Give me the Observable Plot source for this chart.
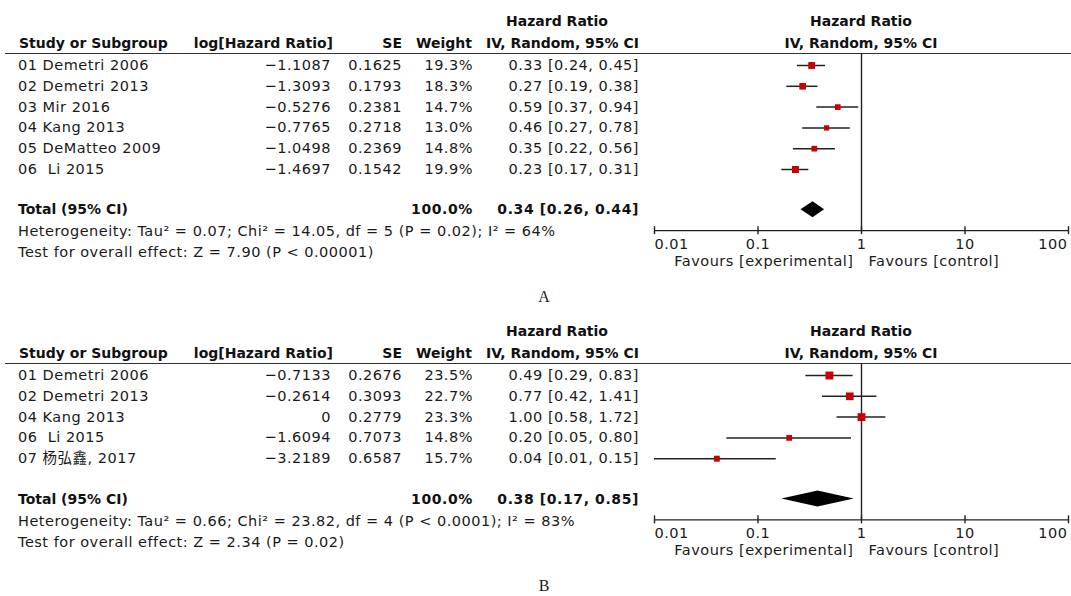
<!DOCTYPE html>
<html><head><meta charset="utf-8">
<script src="https://cdn.jsdelivr.net/npm/d3@7"></script>
<script src="https://cdn.jsdelivr.net/npm/@observablehq/plot@0.6"></script>
<style>
html,body{margin:0;padding:0;background:#fff;}
#root{position:relative;width:1071px;height:596px;overflow:hidden;font-family:"DejaVu Sans","Noto Sans CJK SC",sans-serif;color:#1a1a1a;}
.t{position:absolute;white-space:pre;font-size:14.5px;letter-spacing:0.5px;line-height:1;}
.b{font-weight:bold;font-size:14px;letter-spacing:0;color:#111;}
.tb{font-weight:bold;font-size:14px;letter-spacing:0.6px;color:#111;}
.l{transform:translate(0,-50%);}
.r{transform:translate(-100%,-50%);}
.c{transform:translate(-50%,-50%);}
.lab{font-family:"Liberation Serif",serif;font-size:16px;letter-spacing:0;}
.hr{position:absolute;left:5px;width:1066px;height:1px;background:#333;}
svg text{letter-spacing:0.5px;}
</style></head><body><div id="root"></div><script>
// ---------- data ----------
const colHeaders1 = ["Hazard Ratio"];
const colHeaders2 = ["Study or Subgroup", "log[Hazard Ratio]", "SE", "Weight", "IV, Random, 95% CI"];
const plotHeaders = ["Hazard Ratio", "IV, Random, 95% CI"];
const tickValues = [0.01, 0.1, 1, 10, 100];
const tickLabels = ["0.01", "0.1", "1", "10", "100"];
const favourLabels = ["Favours [experimental]", "Favours [control]"];

// Panel A
const studiesA = ["01 Demetri 2006", "02 Demetri 2013", "03 Mir 2016", "04 Kang 2013", "05 DeMatteo 2009", "06  Li 2015"];
const logHrA = [-1.1087, -1.3093, -0.5276, -0.7765, -1.0498, -1.4697];
const seA = [0.1625, 0.1793, 0.2381, 0.2718, 0.2369, 0.1542];
const weightA = [19.3, 18.3, 14.7, 13.0, 14.8, 19.9];
const hrA = [0.33, 0.27, 0.59, 0.46, 0.35, 0.23];
const loA = [0.24, 0.19, 0.37, 0.27, 0.22, 0.17];
const hiA = [0.45, 0.38, 0.94, 0.78, 0.56, 0.31];
const totalA = [0.34, 0.26, 0.44];
const hetA = "Heterogeneity: Tau² = 0.07; Chi² = 14.05, df = 5 (P = 0.02); I² = 64%";
const testA = "Test for overall effect: Z = 7.90 (P < 0.00001)";

// Panel B
const studiesB = ["01 Demetri 2006", "02 Demetri 2013", "04 Kang 2013", "06  Li 2015", "07 杨弘鑫, 2017"];
const logHrB = [-0.7133, -0.2614, 0, -1.6094, -3.2189];
const seB = [0.2676, 0.3093, 0.2779, 0.7073, 0.6587];
const weightB = [23.5, 22.7, 23.3, 14.8, 15.7];
const hrB = [0.49, 0.77, 1.00, 0.20, 0.04];
const loB = [0.29, 0.42, 0.58, 0.05, 0.01];
const hiB = [0.83, 1.41, 1.72, 0.80, 0.15];
const totalB = [0.38, 0.17, 0.85];
const hetB = "Heterogeneity: Tau² = 0.66; Chi² = 23.82, df = 4 (P < 0.0001); I² = 83%";
const testB = "Test for overall effect: Z = 2.34 (P = 0.02)";

// ---------- layout ----------
const ROWH = 20.8, TOP = 12, RULE_Y = 53, TOTAL_GAP = 0.94;
const root = document.getElementById("root");
const f4 = v => v === 0 ? "0" : d3.format(".4f")(v);
const f2 = v => v.toFixed(2);
const ci = (h, l, u) => `${f2(h)} [${f2(l)}, ${f2(u)}]`;

function txt(parent, s, x, y, cls, al) {
  const d = document.createElement("div");
  d.className = "t " + cls + " " + al;
  d.style.left = x + "px";
  d.style.top = y + "px";
  d.textContent = s;
  parent.appendChild(d);
}

function panel(p, top) {
  const el = document.createElement("div");
  el.style.cssText = `position:absolute;left:0;top:${top}px;width:1071px;height:286px;`;
  root.appendChild(el);
  const n = p.names.length;
  const rowY = i => RULE_Y + TOP + i * ROWH;
  // header
  txt(el, colHeaders1[0], 557, 21, "b", "c");
  txt(el, plotHeaders[0], 861, 21, "b", "c");
  txt(el, colHeaders2[0], 19, 43, "b", "l");
  txt(el, colHeaders2[1], 333, 43, "b", "r");
  txt(el, colHeaders2[2], 402, 43, "b", "r");
  txt(el, colHeaders2[3], 472, 43, "b", "r");
  txt(el, colHeaders2[4], 639, 43, "b", "r");
  txt(el, plotHeaders[1], 861, 43, "b", "c");
  const hr = document.createElement("div");
  hr.className = "hr"; hr.style.top = RULE_Y + "px";
  el.appendChild(hr);
  // rows
  p.names.forEach((name, i) => {
    const y = rowY(i);
    txt(el, name, 18, y, "", "l");
    txt(el, f4(p.logHr[i]), 331, y, "", "r");
    txt(el, f4(p.se[i]), 402, y, "", "r");
    txt(el, p.weight[i].toFixed(1) + "%", 473, y, "", "r");
    txt(el, ci(p.hr[i], p.lo[i], p.hi[i]), 639, y, "", "r");
  });
  const totalRow = n + TOTAL_GAP;
  const ty = rowY(totalRow);
  txt(el, "Total (95% CI)", 18, ty, "b", "l");
  txt(el, d3.sum(p.weight).toFixed(1) + "%", 473, ty, "tb", "r");
  txt(el, ci(p.total[0], p.total[1], p.total[2]), 639, ty, "tb", "r");
  txt(el, p.het, 18, ty + 22, "", "l");
  txt(el, p.test, 18, ty + 43, "", "l");
  const axisRow = totalRow + 1;
  txt(el, p.label, 544, rowY(axisRow) + 67, "lab", "c");

  // forest plot
  const rows = p.names.map((name, i) => ({i, hr: p.hr[i], lo: p.lo[i], hi: p.hi[i], w: p.weight[i]}));
  const dh = 8 / ROWH;
  const diamond = [
    {y: totalRow - dh, x1: p.total[0], x2: p.total[0]},
    {y: totalRow, x1: p.total[1], x2: p.total[2]},
    {y: totalRow + dh, x1: p.total[0], x2: p.total[0]}
  ];
  const ticks = tickValues.map((v, k) => ({v, label: tickLabels[k], k}));
  const tk = 4 / ROWH;
  const labRow = axisRow + 13.5 / ROWH;
  const favRow = axisRow + 31 / ROWH;
  const H = Math.ceil(TOP + favRow * ROWH + 12);
  const chart = Plot.plot({
    width: 431, height: H, margin: 0,
    style: {fontFamily: '"DejaVu Sans", sans-serif', fontSize: "14.5px", color: "#1a1a1a", background: "transparent", overflow: "visible"},
    x: {type: "log", domain: [0.01, 100], range: [14, 428], axis: null},
    y: {type: "linear", domain: [0, 1], range: [TOP, TOP + ROWH], axis: null},
    r: {type: "linear", domain: [0, 25], range: [1.13, 4.66]},
    marks: [
      Plot.ruleX([1], {y1: -TOP / ROWH, y2: axisRow, stroke: "#222", strokeWidth: 1.4}),
      Plot.ruleY(rows, {y: "i", x1: "lo", x2: "hi", stroke: "#222", strokeWidth: 1.5}),
      Plot.dot(rows, {x: "hr", y: "i", r: "w", symbol: "square", fill: "#c80000", stroke: null}),
      Plot.areaX(diamond, {y: "y", x1: "x1", x2: "x2", fill: "#000", curve: "linear"}),
      Plot.ruleY([axisRow], {x1: tickValues[0], x2: tickValues[tickValues.length - 1], stroke: "#222", strokeWidth: 1.4}),
      Plot.ruleX(ticks, {x: "v", y1: axisRow - tk, y2: axisRow + tk, stroke: "#222", strokeWidth: 1.4}),
      Plot.text(ticks.filter(d => d.k === 0), {x: "v", y: labRow, text: "label", textAnchor: "start", dx: 0, fill: "#1a1a1a"}),
      Plot.text(ticks.filter(d => d.k > 0 && d.k < ticks.length - 1), {x: "v", y: labRow, text: "label", textAnchor: "middle", fill: "#1a1a1a"}),
      Plot.text(ticks.filter(d => d.k === ticks.length - 1), {x: "v", y: labRow, text: "label", textAnchor: "end", dx: -1, fill: "#1a1a1a"}),
      Plot.text([favourLabels[0]], {x: 1, y: favRow, text: d => d, textAnchor: "end", dx: -8, fill: "#1a1a1a"}),
      Plot.text([favourLabels[1]], {x: 1, y: favRow, text: d => d, textAnchor: "start", dx: 7, fill: "#1a1a1a"})
    ]
  });
  chart.style.position = "absolute";
  chart.style.left = "640px";
  chart.style.top = RULE_Y + "px";
  el.appendChild(chart);
}

panel({names: studiesA, logHr: logHrA, se: seA, weight: weightA, hr: hrA, lo: loA, hi: hiA,
       total: totalA, het: hetA, test: testA, label: "A"}, 0);
panel({names: studiesB, logHr: logHrB, se: seB, weight: weightB, hr: hrB, lo: loB, hi: hiB,
       total: totalB, het: hetB, test: testB, label: "B"}, 310);
</script></body></html>
